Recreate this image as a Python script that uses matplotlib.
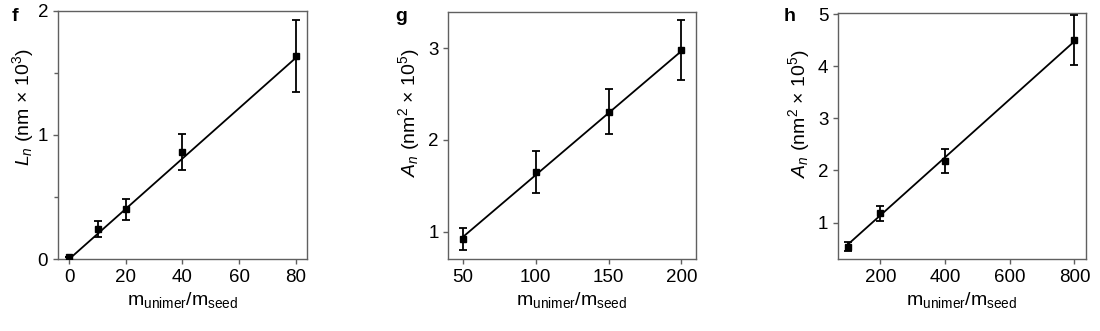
import matplotlib
matplotlib.use("Agg")
import matplotlib.pyplot as plt
from matplotlib.ticker import MultipleLocator

plt.rcParams['font.family'] = ['Liberation Sans', 'DejaVu Sans']
plt.rcParams['mathtext.fontset'] = 'custom'
plt.rcParams['mathtext.rm'] = 'Liberation Sans'
plt.rcParams['mathtext.it'] = 'Liberation Sans:italic'

# panel f
f_x = [0, 10, 20, 40, 80]
f_y = [0.02, 0.24, 0.40, 0.86, 1.64]
f_err = [0.0, 0.065, 0.085, 0.145, 0.29]
f_fit_x = [0, 80]
f_fit_y = [0.0, 1.62]

# panel g
g_x = [50, 100, 150, 200]
g_y = [0.92, 1.65, 2.31, 2.98]
g_err = [0.12, 0.23, 0.245, 0.33]
g_fit_x = [50, 200]
g_fit_y = [0.94, 2.97]

# panel h
h_x = [100, 200, 400, 800]
h_y = [0.54, 1.18, 2.19, 4.51]
h_err = [0.08, 0.145, 0.23, 0.48]
h_fit_x = [100, 800]
h_fit_y = [0.58, 4.48]

gray = '#606060'
xlab = r'm$_{\mathregular{unimer}}$/m$_{\mathregular{seed}}$'

fig = plt.figure(figsize=(11, 3.31), dpi=100)

panels = [
    ('f', [0.0527, 0.2175, 0.2263, 0.7495], f_x, f_y, f_err, f_fit_x, f_fit_y,
     (-4, 84), (0, 2), [0, 20, 40, 60, 80], [0, 1, 2], r'$L_n$ (nm $\times$ 10$^3$)',
     (0.011, 0.95), (-0.09, 0.61)),
    ('g', [0.4075, 0.2175, 0.2252, 0.7472], g_x, g_y, g_err, g_fit_x, g_fit_y,
     (40, 210), (0.7, 3.4), [50, 100, 150, 200], [1, 2, 3], r'$A_n$ (nm$^2$ $\times$ 10$^5$)',
     (0.359, 0.95), (-0.105, 0.59)),
    ('h', [0.762, 0.2175, 0.225, 0.7425], h_x, h_y, h_err, h_fit_x, h_fit_y,
     (70, 835), (0.3, 5.02), [200, 400, 600, 800], [1, 2, 3, 4, 5], r'$A_n$ (nm$^2$ $\times$ 10$^5$)',
     (0.712, 0.95), (-0.105, 0.59)),
]

for letter, pos, x, y, err, fx, fy, xl, yl, xt, yt, ylab, lpos, ylpos in panels:
    ax = fig.add_axes(pos)
    ax.plot(fx, fy, color='black', lw=1.3, zorder=2)
    ax.errorbar(x, y, yerr=err, fmt='s', color='black', ms=4.8, elinewidth=1.3,
                capsize=2.8, capthick=1.3, zorder=3)
    ax.set_xlim(*xl)
    ax.set_ylim(*yl)
    ax.set_xticks(xt)
    ax.set_yticks(yt)
    if letter == 'f':
        ax.yaxis.set_minor_locator(MultipleLocator(0.5))
    for s in ax.spines.values():
        s.set_color(gray)
        s.set_linewidth(1.0)
    ax.tick_params(which='major', direction='out', length=3.5, width=1.0, color=gray,
                   labelsize=13.5, pad=3.5)
    ax.tick_params(which='minor', direction='out', length=3, width=1.0, color=gray)
    ax.set_xlabel(xlab, fontsize=14, labelpad=3)
    ax.set_ylabel(ylab, fontsize=14)
    ax.yaxis.set_label_coords(ylpos[0], ylpos[1])
    fig.text(lpos[0], lpos[1], letter, fontsize=14, fontweight='bold', va='center', ha='left')

fig.savefig('out.png', dpi=100)
